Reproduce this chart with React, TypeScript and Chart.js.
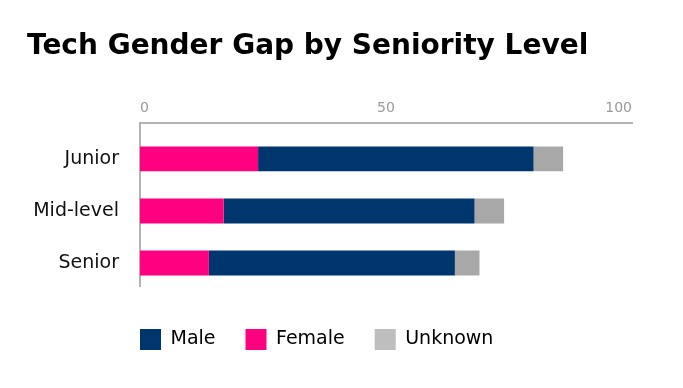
import { useEffect, useRef } from 'react';
import { Chart, registerables } from 'chart.js';

Chart.register(...registerables);

const categories = ['Junior', 'Mid-level', 'Senior'];
const femaleValues = [24, 17, 14];
const maleValues = [56, 51, 50];
const unknownValues = [6, 6, 5];
const xTicks = [0, 50, 100];
const legendOrder = ['Male', 'Female', 'Unknown'];
const legendColors = ['#00366E', '#FF0080', '#BEBEBE'];

const FONT = '"DejaVu Sans", sans-serif';

const legendPlacement = {
  id: 'legendPlacement',
  afterLayout(chart: any) {
    const legend = chart.legend;
    if (!legend) return;
    const pad = legend.options.labels.padding;
    const h = legend.height;
    legend.left = chart.chartArea.left - pad;
    legend.top = chart.chartArea.bottom + 43 - pad;
    legend.bottom = legend.top + h;
  },
};

export default function App() {
  const ref = useRef<HTMLCanvasElement | null>(null);

  useEffect(() => {
    if (!ref.current) return;
    const toPoints = (arr: number[]) => arr.map((v, i) => ({ x: v, y: i }));
    const chart = new Chart(ref.current, {
      type: 'bar',
      data: {
        datasets: [
          { label: 'Female', data: toPoints(femaleValues), backgroundColor: '#FF0080', borderWidth: 0 },
          { label: 'Male', data: toPoints(maleValues), backgroundColor: '#00366E', borderWidth: 0 },
          { label: 'Unknown', data: toPoints(unknownValues), backgroundColor: '#A8A8A8', borderWidth: 0 },
        ],
      },
      plugins: [legendPlacement],
      options: {
        indexAxis: 'y',
        animation: false,
        responsive: true,
        maintainAspectRatio: false,
        layout: { padding: { left: 19, right: 43, top: 0, bottom: 33 } },
        datasets: { bar: { categoryPercentage: 1, barPercentage: 0.478 } },
        scales: {
          x: {
            type: 'linear',
            position: 'top',
            stacked: true,
            min: 0,
            max: 100,
            afterBuildTicks: (s: any) => {
              s.ticks = xTicks.map((v) => ({ value: v }));
            },
            ticks: {
              align: 'inner',
              color: '#9a9a9a',
              padding: 7,
              font: { family: FONT, size: 14 },
            },
            grid: { display: false, drawTicks: false },
            border: { display: true, color: '#b3b3b3', width: 2 },
          },
          y: {
            type: 'linear',
            reverse: true,
            stacked: true,
            offset: false,
            min: -0.68,
            max: 2.44,
            afterBuildTicks: (s: any) => {
              s.ticks = categories.map((_, i) => ({ value: i }));
            },
            afterFit: (s: any) => {
              s.width = 113;
            },
            ticks: {
              callback: (v: any) => categories[v as number] ?? '',
              color: '#111',
              padding: 21,
              font: { family: FONT, size: 19, weight: 500 },
            },
            grid: { display: false, drawTicks: false, offset: false },
            border: { display: true, color: '#b3b3b3', width: 2 },
          },
        },
        plugins: {
          title: {
            display: true,
            text: 'Tech Gender Gap by Seniority Level',
            align: 'start',
            color: '#000',
            font: { family: FONT, size: 28, weight: 'bold' },
            padding: { top: 22, bottom: 29 },
          },
          legend: {
            display: true,
            position: 'bottom',
            align: 'start',
            labels: {
              boxWidth: 21,
              boxHeight: 21,
              padding: 30,
              color: '#000',
              font: { family: FONT, size: 19, weight: 500 },
              sort: (a: any, b: any) => legendOrder.indexOf(a.text) - legendOrder.indexOf(b.text),
              generateLabels: (c: any) =>
                Chart.defaults.plugins.legend.labels.generateLabels(c).map((item: any) => ({
                  ...item,
                  fillStyle: legendColors[legendOrder.indexOf(item.text)],
                  lineWidth: 0,
                })),
            },
          },
          tooltip: { enabled: false },
        },
      } as any,
    });
    return () => chart.destroy();
  }, []);

  return (
    <div style={{ position: 'relative', width: '100%', height: 372 }}>
      <canvas ref={ref} />
    </div>
  );
}
